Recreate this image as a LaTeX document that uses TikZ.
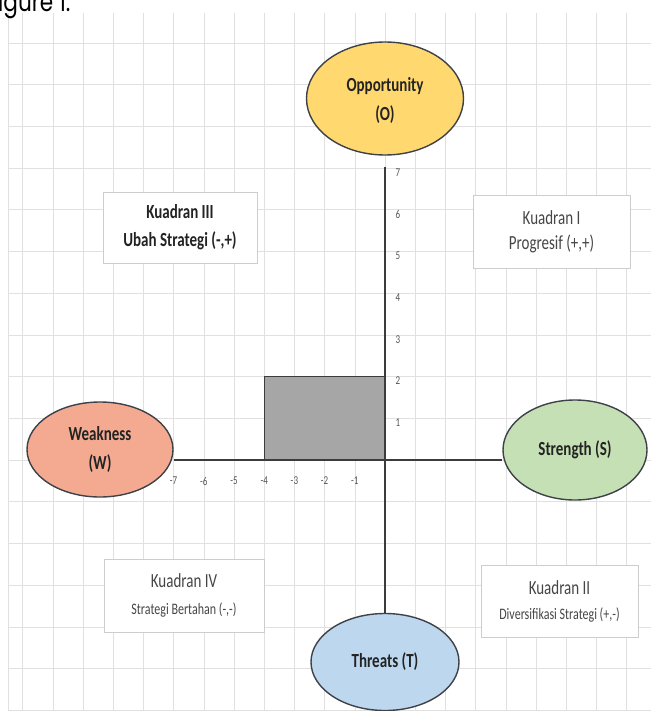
\documentclass[tikz,border=0pt]{standalone}
\usepackage{fontspec}
\usetikzlibrary{shapes.geometric}
\newfontfamily\carl[FakeStretch=0.75]{Carlito}
\newfontfamily\capfont[FakeStretch=0.8]{Poppins}
\definecolor{gridc}{RGB}{224,224,224}
\definecolor{outl}{RGB}{62,66,72}
\definecolor{oppc}{RGB}{255,217,112}
\definecolor{weakc}{RGB}{244,170,145}
\definecolor{strc}{RGB}{197,224,180}
\definecolor{thrc}{RGB}{189,215,238}
\definecolor{boxc}{RGB}{205,205,205}
\definecolor{zonec}{RGB}{166,166,166}
\definecolor{axc}{RGB}{60,60,60}
\definecolor{txtc}{RGB}{35,35,35}
\definecolor{lightt}{RGB}{70,70,70}
\definecolor{tickc}{RGB}{85,85,85}
\pgfdeclarelayer{bg}
\pgfsetlayers{bg,main}
\begin{document}
\begin{tikzpicture}[x=1pt,y=-1pt,
  gridline/.style={draw=gridc, line width=0.6pt},
  swot/.style={ellipse, draw=outl, line width=1.4pt, inner sep=0pt, align=center,
    text=txtc, font=\carl\bfseries\fontsize{20}{29}\selectfont},
  quadbox/.style={rectangle, draw=boxc, fill=white, line width=0.8pt, inner sep=0pt, align=center},
  boldq/.style={font=\carl\bfseries\fontsize{20}{28}\selectfont, text=txtc},
  lightq/.style={font=\carl\fontsize{20}{25}\selectfont, text=lightt},
  axisl/.style={draw=axc, line width=1.8pt},
  ticklbl/.style={font=\carl\fontsize{12}{12}\selectfont, text=tickc, inner sep=0pt},
  zone/.style={rectangle, fill=zonec, draw=axc, line width=0.8pt, inner sep=0pt}
]
\useasboundingbox (0,0) rectangle (651,711);

% caption (cut by the top edge)
\node[anchor=base west, inner sep=0pt, font=\capfont\fontsize{27}{27}\selectfont, text=black] (cap) at (-13,12) {Figure 1.};

% SWOT ellipses
\node[swot, fill=oppc, minimum width=157pt, minimum height=113pt] (O) at (385,98.5) {\rule{0pt}{18pt}Opportunity\\(O)};
\node[swot, fill=weakc, minimum width=146pt, minimum height=95pt] (W) at (100,449.5) {Weakness\\(W)};
\node[swot, fill=strc, minimum width=144pt, minimum height=100pt] (S) at (575,450) {Strength (S)};
\node[swot, fill=thrc, minimum width=148pt, minimum height=97pt] (T) at (385,662) {Threats (T)};

% quadrant boxes
\node[quadbox, boldq, minimum width=154pt, minimum height=71pt] (K3) at (180,227.5)
  {Kuadran III\\Ubah Strategi (-,+)};
\node[quadbox, lightq, minimum width=157pt, minimum height=73pt] (K1) at (551.5,231.5)
  {Kuadran I\\Progresif (+,+)};
\node[quadbox, lightq, minimum width=160pt, minimum height=73pt] (K4) at (184,595.5)
  {Kuadran IV\\[2pt]{\fontsize{16}{20}\selectfont Strategi Bertahan (-,-)}};
\node[quadbox, lightq, minimum width=157pt, minimum height=72pt] (K2) at (559.5,601)
  {Kuadran II\\{\fontsize{16}{20}\selectfont Diversifikasi Strategi (+,-)}};

% tick labels
\foreach \k in {1,...,7} {
  \node[ticklbl] (ty\k) at (398,{460-41.7*\k+4.5}) {\k};
}
\foreach \k in {1,...,7} {
  \node[ticklbl] (tx\k) at ({385-30.2*\k},481) {-\k};
}

\coordinate (ytop) at (385,167);
\coordinate (origin) at (385,460);

\begin{pgfonlayer}{bg}
  \fill[white] (0,0) rectangle (651,711);
  \foreach \k in {-12,...,8} {
    \draw[gridline] ({385+30.2*\k},13) -- ({385+30.2*\k},711);
  }
  \draw[gridline] (8,13) -- (8,711);
  \foreach \k in {-10,...,6} {
    \draw[gridline] (8,{460+41.7*\k}) -- (651,{460+41.7*\k});
  }
  \node[zone, minimum width=120.8pt, minimum height=83.4pt] (zn) at (324.6,418.3) {};
  \draw[axisl] (ytop) -- (T.north);
  \draw[axisl] (origin -| W.east) -- (origin -| S.west);
\end{pgfonlayer}
\end{tikzpicture}
\end{document}
